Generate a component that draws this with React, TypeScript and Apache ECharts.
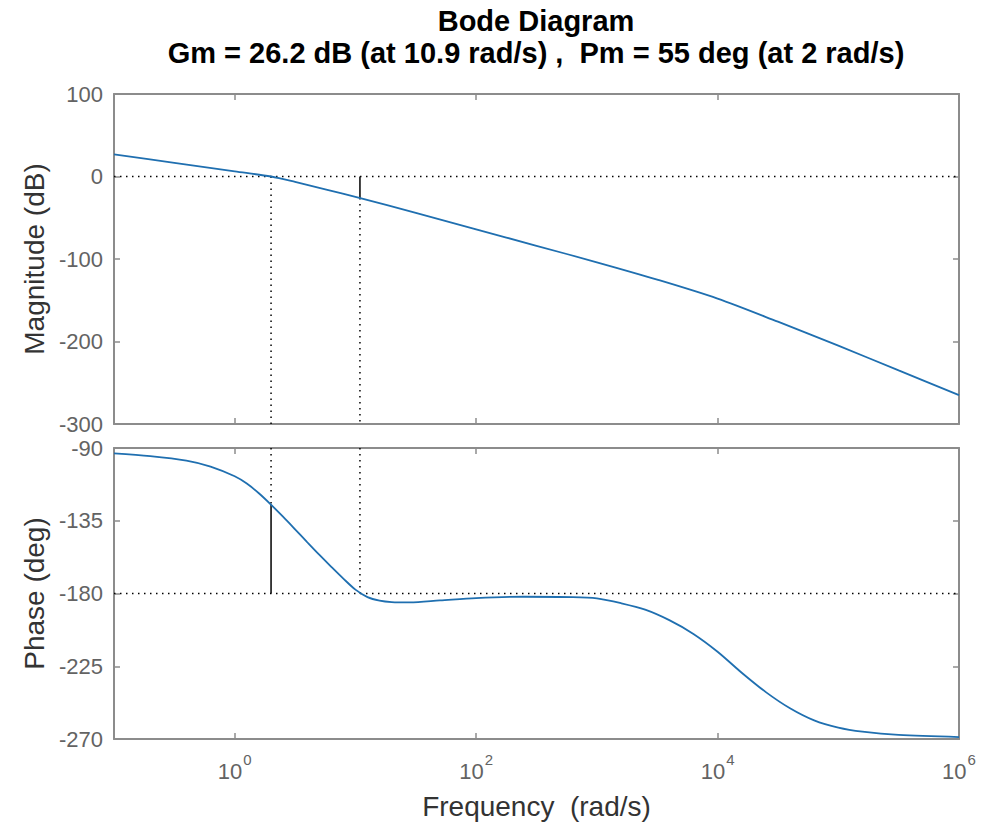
import React, { useEffect, useRef } from "react";
import * as echarts from "echarts";

// ---- data ----
// frequency as log10(rad/s)
const magExp = [-1, -0.5, 0, 0.3, 0.5, 0.75, 1.04, 1.5, 2, 2.5, 3, 3.5, 4, 4.5, 5, 5.5, 6];
const magDb = [26.7, 16.6, 6.2, 0, -6.5, -15.5, -26.2, -44, -64, -84, -104, -125, -148, -176, -205, -235, -265];

const phaseExp = [-1, -0.7, -0.4, -0.2, 0, 0.1, 0.2, 0.3, 0.4, 0.5, 0.6, 0.7, 0.8, 0.9, 1.0, 1.1, 1.2, 1.3, 1.45, 1.7, 2.0, 2.4, 2.8, 3.0, 3.2, 3.4, 3.6, 3.8, 4.0, 4.2, 4.4, 4.6, 4.8, 5.0, 5.2, 5.5, 6.0];
const phaseDeg = [-93.3, -95, -97.8, -101.5, -107.5, -112, -118, -125, -132.5, -140.3, -148.2, -156, -163.5, -170.8, -177.6, -182.2, -184.4, -185.3, -185.5, -184.3, -182.8, -182, -182.2, -183, -186, -190, -196.5, -205, -216, -229, -241, -251, -258.5, -263, -265.5, -267.5, -268.8];

const gmDb = 26.2;
const gmFreq = 10.9;
const pmDeg = 55;
const pmFreq = 2;

const xTickExps = [0, 2, 4, 6];
const magTicks = { min: -300, max: 100, interval: 100 };
const phaseTicks = { min: -270, max: -90, interval: 45 };

const titleLine1 = "Bode Diagram";
const titleLine2 = "Gm = 26.2 dB (at 10.9 rad/s) ,  Pm = 55 deg (at 2 rad/s)";

export default function App() {
  const ref = useRef<HTMLDivElement>(null);
  useEffect(() => {
    if (!ref.current) return;
    const chart = echarts.init(ref.current, undefined, { renderer: "svg" });
    const FONT = "Liberation Sans, Arial, Helvetica, sans-serif";
    const frame = "#8c8c8c";
    const tickColor = "#636363";
    const nameColor = "#333";
    const xMin = -1, xMax = 6;

    const gmX = Math.log10(gmFreq);
    const pmX = Math.log10(pmFreq);

    const grids = [
      { left: 114, top: 94, width: 845, height: 330 },
      { left: 114, top: 448, width: 845, height: 291 },
    ];

    const xAxisBase = (gridIndex: number, position: string, showLabel: boolean) => ({
      type: "value",
      gridIndex,
      position,
      min: xMin,
      max: xMax,
      interval: 1,
      splitLine: { show: false },
      axisLine: { show: true, onZero: false, lineStyle: { color: frame, width: 2 } },
      axisTick: { show: true, inside: true, length: 6, customValues: xTickExps, lineStyle: { color: frame, width: 1.5 } },
      axisLabel: showLabel
        ? {
            show: true,
            customValues: xTickExps,
            margin: 13,
            formatter: (v: number) => `{b|10}{s|${v}}`,
            rich: {
              b: { fontSize: 22, fontFamily: FONT, color: tickColor, verticalAlign: "bottom" },
              s: { fontSize: 15, fontFamily: FONT, color: tickColor, verticalAlign: "top", padding: [0, 0, 15, 1] },
            },
          }
        : { show: false },
    });

    const yAxisBase = (gridIndex: number, position: string, showLabel: boolean, t: any, name: string) => ({
      type: "value",
      gridIndex,
      position,
      min: t.min,
      max: t.max,
      interval: t.interval,
      name: showLabel ? name : "",
      nameLocation: "middle",
      nameGap: 66,
      nameRotate: 90,
      nameTextStyle: { fontSize: 28, fontFamily: FONT, color: nameColor },
      splitLine: { show: false },
      axisLine: { show: true, onZero: false, lineStyle: { color: frame, width: 2 } },
      axisTick: { show: true, inside: true, length: 6, lineStyle: { color: frame, width: 1.5 } },
      axisLabel: showLabel
        ? { show: true, fontSize: 22, fontFamily: FONT, color: tickColor, margin: 11 }
        : { show: false },
    });

    const dotted = { color: "#000", width: 1.5, type: [1.5, 4.5] };
    const solid = { color: "#000", width: 1.5, type: "solid" };
    const refLine = (xi: number, yi: number, data: number[][], style: any) => ({
      type: "line",
      xAxisIndex: xi,
      yAxisIndex: yi,
      data,
      symbol: "none",
      silent: true,
      lineStyle: style,
      z: 1,
    });

    chart.setOption({
      animation: false,
      backgroundColor: "#fff",
      grid: grids,
      graphic: [
        {
          type: "text",
          x: 536,
          y: 21,
          style: { text: titleLine1, align: "center", verticalAlign: "middle", font: `bold 29px ${FONT}`, fill: "#000" },
        },
        {
          type: "text",
          x: 536,
          y: 53,
          style: { text: titleLine2, align: "center", verticalAlign: "middle", font: `bold 29px ${FONT}`, fill: "#000" },
        },
      ],
      xAxis: [
        xAxisBase(0, "bottom", false),
        xAxisBase(0, "top", false),
        {
          ...xAxisBase(1, "bottom", true),
          name: "Frequency  (rad/s)",
          nameLocation: "middle",
          nameGap: 53,
          nameTextStyle: { fontSize: 28, fontFamily: FONT, color: nameColor },
        },
        xAxisBase(1, "top", false),
      ],
      yAxis: [
        yAxisBase(0, "left", true, magTicks, "Magnitude (dB)"),
        yAxisBase(0, "right", false, magTicks, ""),
        yAxisBase(1, "left", true, phaseTicks, "Phase (deg)"),
        yAxisBase(1, "right", false, phaseTicks, ""),
      ],
      series: [
        refLine(0, 0, [[xMin, 0], [xMax, 0]], dotted),
        refLine(0, 0, [[pmX, 0], [pmX, magTicks.min]], dotted),
        refLine(0, 0, [[gmX, -gmDb], [gmX, magTicks.min]], dotted),
        refLine(0, 0, [[gmX, 0], [gmX, -gmDb]], solid),
        refLine(2, 2, [[xMin, -180], [xMax, -180]], dotted),
        refLine(2, 2, [[pmX, phaseTicks.max], [pmX, -180 + pmDeg]], dotted),
        refLine(2, 2, [[pmX, -180 + pmDeg], [pmX, -180]], solid),
        refLine(2, 2, [[gmX, phaseTicks.max], [gmX, -180]], dotted),
        {
          type: "line",
          name: "Magnitude",
          xAxisIndex: 0,
          yAxisIndex: 0,
          data: magExp.map((e, i) => [e, magDb[i]]),
          symbol: "none",
          smooth: 0.3,
          lineStyle: { color: "#1f6fb0", width: 1.8 },
          z: 3,
        },
        {
          type: "line",
          name: "Phase",
          xAxisIndex: 2,
          yAxisIndex: 2,
          data: phaseExp.map((e, i) => [e, phaseDeg[i]]),
          symbol: "none",
          smooth: 0.3,
          lineStyle: { color: "#1f6fb0", width: 1.8 },
          z: 3,
        },
      ],
    });
    return () => chart.dispose();
  }, []);
  return (
    <div
      ref={ref}
      style={{ position: "absolute", left: 0, top: 0, width: 987, height: 834 }}
    />
  );
}
